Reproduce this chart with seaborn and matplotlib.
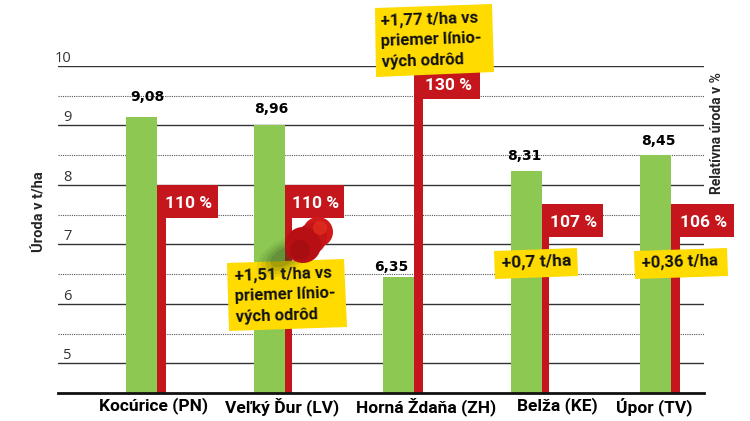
import numpy as np
import pandas as pd
import matplotlib
matplotlib.use('Agg')
import matplotlib.pyplot as plt
import seaborn as sns
from matplotlib.patches import Polygon, Circle, Ellipse, Rectangle

# values
places = ['Kocúrice (PN)', 'Veľký Ďur (LV)', 'Horná Ždaňa (ZH)', 'Belža (KE)', 'Úpor (TV)']
yield_bars = [9.14, 9.00, 6.45, 8.23, 8.50]       # bar height as drawn in the picture
yield_labels = ['9,08', '8,96', '6,35', '8,31', '8,45']
relative_bars = [8.0, 8.0, 10.0, 7.68, 7.68]
relative_labels = ['110 %', '110 %', '130 %', '107 %', '106 %']
yticks = [5, 6, 7, 8, 9, 10]
minor_yticks = [5.5, 6.5, 7.5, 8.5, 9.5]

GREEN = '#8cc852'
RED = '#c4161c'
YELLOW = '#ffdb00'

sns.set_theme(style='white')
plt.rcParams['font.family'] = ['Roboto', 'DejaVu Sans']

df = pd.DataFrame({
    'place': places * 2,
    'series': ['yield'] * 5 + ['relative'] * 5,
    'value': yield_bars + relative_bars,
})

fig = plt.figure(figsize=(7.5, 4.21), dpi=100)
ax = fig.add_axes([58 / 750, 1 - 393 / 421, 646 / 750, 327 / 421])

sns.barplot(data=df, x='place', y='value', hue='series', ax=ax, width=0.482, gap=0,
            palette={'yield': GREEN, 'relative': RED}, legend=False, saturation=1,
            linewidth=0, edgecolor='none')
ax.set_xlim(-0.770, 4.257)
ax.set_ylim(4.5, 10)
ax.set_xlabel('')
ax.set_ylabel('')

# red bars are thin, and get a flag with the percentage
red_px = [9, 7, 9, 7, 9]
flag_px = [52, 52, 57, 54, 54]
px_x = 646 / 5.027
px_y = 327 / 5.5
red_bars = ax.containers[1]
for i, patch in enumerate(red_bars):
    patch.set_width(red_px[i] / px_x)
    left = patch.get_x() + patch.get_width()
    flag = Rectangle((left, relative_bars[i] - 33 / px_y), flag_px[i] / px_x, 33 / px_y,
                     facecolor=RED, edgecolor='none', zorder=3, clip_on=False)
    ax.add_patch(flag)
    ax.text(left + flag_px[i] / px_x / 2 - 3 / px_x, relative_bars[i] - 19 / px_y, relative_labels[i],
            color='white', ha='center', va='center', fontsize=12.5, fontweight='bold', zorder=4)

# value labels over green bars, they do not sit quite centred in the original
label_dx = [6, 1.5, -7, -2.5, 2.5]
label_dy = [20, 16, 10, 15, 14]
for i, patch in enumerate(ax.containers[0]):
    ax.annotate(yield_labels[i], (patch.get_x() + patch.get_width() / 2, yield_bars[i]),
                xytext=(label_dx[i] * 0.72, label_dy[i] * 0.72), textcoords='offset points',
                ha='center', va='center', fontsize=10, fontweight='bold',
                family='DejaVu Sans', color='black', zorder=4)

# grid
ax.set_axisbelow(True)
ax.set_yticks(yticks)
ax.set_yticks(minor_yticks, minor=True)
ax.grid(axis='y', which='major', color='#333333', lw=1.0)
ax.grid(axis='y', which='minor', color='#555555', lw=0.8, ls=(0, (1, 1)))
ax.tick_params(axis='y', which='both', length=0, pad=-10, labelsize=10.5, labelcolor='#333333')
for lab in ax.get_yticklabels():
    lab.set_va('bottom')
    lab.set_family('Open Sans')

# place names are not centred on the bars
label_shift_px = [-3, -3, 12, 15, -17]
ax.set_xticks([i + s / px_x for i, s in enumerate(label_shift_px)])
ax.set_xticklabels(places, fontsize=12.5, fontweight='bold', color='black')
ax.tick_params(axis='x', length=0, pad=3)

sns.despine(ax=ax, left=True, top=True, right=True)
ax.spines['bottom'].set_linewidth(2)
ax.spines['bottom'].set_color('#111111')

# overlay in pixel coordinates for notes and the pin
top = fig.add_axes([0, 0, 1, 1], zorder=5)
top.set_xlim(0, 750)
top.set_ylim(421, 0)
top.axis('off')

top.text(39, 212, 'Úroda v t/ha', rotation=90, ha='center', va='center', fontsize=10.5, fontweight='bold')
top.text(717, 133, 'Relatívna úroda v %', rotation=90, ha='center', va='center', fontsize=10, fontweight='bold')


def note(corners, text, center, size=12):
    top.add_patch(Polygon(corners, closed=True, facecolor=YELLOW, edgecolor='none', zorder=2))
    top.text(center[0], center[1], text, ha='left', va='center', rotation=2,
             rotation_mode='anchor', fontsize=size, fontweight='bold', color='#111111',
             linespacing=1.5, zorder=3)


note([(375, 8), (492, 4), (494, 72), (376, 77)],
     '+1,77 t/ha vs\npriemer línio-\nvých odrôd', (381, 42))
note([(227, 263), (344, 259), (347, 327), (229, 331)],
     '+1,51 t/ha vs\npriemer línio-\nvých odrôd', (235, 297))
note([(494, 251), (577, 248), (578, 276), (495, 279)], '+0,7 t/ha', (502, 264), size=12.5)
note([(634, 251), (727, 248), (728, 276), (635, 279)], '+0,36 t/ha', (642, 264))

# pin shadow falls on bar and note
for r, a in [(30, 0.08), (25, 0.10), (20, 0.14), (15, 0.18)]:
    top.add_patch(Ellipse((284, 257), r * 2, r * 1.1, angle=-30, facecolor='#2f4a18', alpha=a, lw=0, zorder=3.5))

# pin
top.add_patch(Circle((318, 232), 15, facecolor='#d01a1a', lw=0, zorder=4))
top.add_patch(Ellipse((311, 239), 30, 34, angle=40, facecolor='#c41518', lw=0, zorder=4))
top.add_patch(Circle((303, 245), 18, facecolor='#b80f14', lw=0, zorder=4))
top.add_patch(Circle((300, 250), 10, facecolor='#a80d12', lw=0, zorder=4))
top.add_patch(Circle((320, 228), 7, facecolor='#e2301f', alpha=0.7, lw=0, zorder=4))

fig.savefig('out.png', dpi=100)
